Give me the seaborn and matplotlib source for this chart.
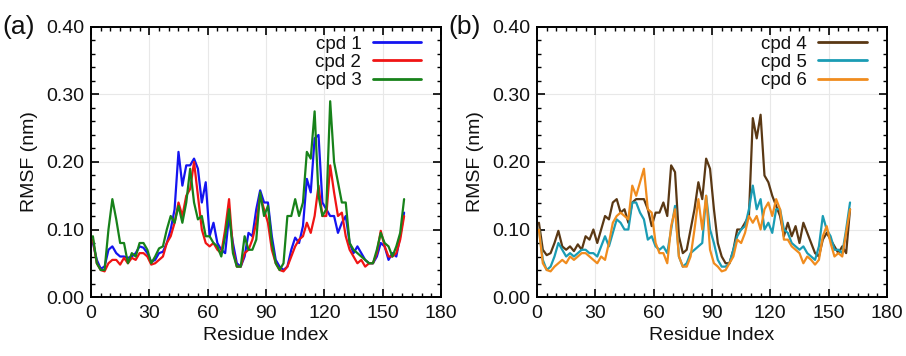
import numpy as np
import pandas as pd
import matplotlib
matplotlib.use("Agg")
import matplotlib.pyplot as plt
import seaborn as sns
from matplotlib.ticker import MultipleLocator

residues = list(range(1, 162, 2))

cpd1 = [0.080, 0.055, 0.042, 0.045, 0.070, 0.075, 0.065, 0.060, 0.060, 0.058,
        0.060, 0.065, 0.075, 0.073, 0.065, 0.052, 0.055, 0.065, 0.067, 0.080,
        0.100, 0.130, 0.215, 0.165, 0.195, 0.195, 0.205, 0.190, 0.140, 0.170,
        0.090, 0.110, 0.080, 0.070, 0.065, 0.120, 0.080, 0.050, 0.045, 0.060,
        0.095, 0.090, 0.130, 0.158, 0.140, 0.140, 0.090, 0.055, 0.045, 0.040,
        0.045, 0.070, 0.088, 0.080, 0.105, 0.175, 0.155, 0.235, 0.240, 0.140,
        0.130, 0.120, 0.120, 0.095, 0.110, 0.120, 0.080, 0.065, 0.075, 0.065,
        0.055, 0.050, 0.050, 0.060, 0.080, 0.075, 0.055, 0.065, 0.060, 0.090,
        0.125]
cpd2 = [0.085, 0.050, 0.040, 0.038, 0.050, 0.055, 0.055, 0.048, 0.058, 0.050,
        0.058, 0.055, 0.065, 0.065, 0.060, 0.048, 0.050, 0.055, 0.060, 0.080,
        0.090, 0.110, 0.140, 0.120, 0.150, 0.160, 0.200, 0.150, 0.100, 0.080,
        0.075, 0.080, 0.070, 0.065, 0.100, 0.145, 0.070, 0.045, 0.045, 0.065,
        0.070, 0.085, 0.110, 0.150, 0.130, 0.110, 0.070, 0.050, 0.040, 0.038,
        0.045, 0.060, 0.075, 0.085, 0.090, 0.110, 0.095, 0.120, 0.165, 0.120,
        0.120, 0.195, 0.155, 0.120, 0.125, 0.090, 0.070, 0.060, 0.050, 0.055,
        0.045, 0.050, 0.050, 0.065, 0.098, 0.075, 0.060, 0.060, 0.065, 0.085,
        0.120]
cpd3 = [0.090, 0.050, 0.040, 0.040, 0.100, 0.145, 0.115, 0.080, 0.080, 0.050,
        0.065, 0.060, 0.080, 0.080, 0.070, 0.050, 0.060, 0.072, 0.075, 0.100,
        0.120, 0.110, 0.135, 0.110, 0.140, 0.190, 0.140, 0.115, 0.120, 0.090,
        0.090, 0.080, 0.075, 0.060, 0.090, 0.130, 0.065, 0.045, 0.045, 0.090,
        0.070, 0.070, 0.085, 0.155, 0.120, 0.135, 0.080, 0.050, 0.040, 0.050,
        0.120, 0.120, 0.145, 0.120, 0.140, 0.215, 0.205, 0.275, 0.150, 0.120,
        0.130, 0.290, 0.200, 0.170, 0.140, 0.140, 0.080, 0.070, 0.065, 0.060,
        0.055, 0.050, 0.050, 0.070, 0.095, 0.080, 0.075, 0.060, 0.075, 0.095,
        0.145]
cpd4 = [0.110, 0.070, 0.062, 0.065, 0.080, 0.098, 0.075, 0.070, 0.075, 0.068,
        0.078, 0.070, 0.090, 0.085, 0.100, 0.080, 0.100, 0.120, 0.115, 0.140,
        0.145, 0.125, 0.130, 0.110, 0.140, 0.145, 0.145, 0.145, 0.130, 0.105,
        0.125, 0.125, 0.140, 0.120, 0.195, 0.185, 0.090, 0.065, 0.070, 0.100,
        0.130, 0.170, 0.145, 0.205, 0.190, 0.130, 0.080, 0.060, 0.050, 0.050,
        0.070, 0.100, 0.100, 0.110, 0.120, 0.265, 0.235, 0.270, 0.180, 0.170,
        0.150, 0.135, 0.120, 0.090, 0.110, 0.090, 0.105, 0.080, 0.110, 0.095,
        0.080, 0.065, 0.060, 0.085, 0.095, 0.085, 0.075, 0.065, 0.075, 0.065,
        0.130]
cpd5 = [0.100, 0.055, 0.040, 0.045, 0.060, 0.080, 0.070, 0.060, 0.065, 0.060,
        0.065, 0.070, 0.070, 0.065, 0.065, 0.060, 0.075, 0.090, 0.075, 0.095,
        0.115, 0.110, 0.100, 0.100, 0.140, 0.140, 0.125, 0.115, 0.085, 0.090,
        0.075, 0.070, 0.075, 0.065, 0.100, 0.135, 0.060, 0.045, 0.050, 0.065,
        0.070, 0.075, 0.080, 0.150, 0.100, 0.080, 0.055, 0.045, 0.045, 0.050,
        0.070, 0.090, 0.100, 0.105, 0.130, 0.165, 0.130, 0.145, 0.100, 0.110,
        0.095, 0.130, 0.130, 0.100, 0.095, 0.080, 0.075, 0.070, 0.075, 0.065,
        0.060, 0.055, 0.075, 0.120, 0.100, 0.090, 0.070, 0.070, 0.065, 0.100,
        0.140]
cpd6 = [0.100, 0.050, 0.040, 0.038, 0.045, 0.050, 0.055, 0.050, 0.060, 0.055,
        0.060, 0.065, 0.065, 0.060, 0.055, 0.050, 0.060, 0.055, 0.080, 0.110,
        0.120, 0.125, 0.120, 0.115, 0.165, 0.150, 0.170, 0.190, 0.130, 0.125,
        0.080, 0.065, 0.065, 0.050, 0.105, 0.130, 0.060, 0.045, 0.045, 0.060,
        0.100, 0.145, 0.100, 0.150, 0.070, 0.050, 0.045, 0.038, 0.040, 0.050,
        0.060, 0.085, 0.080, 0.095, 0.120, 0.110, 0.120, 0.100, 0.130, 0.140,
        0.120, 0.145, 0.130, 0.085, 0.085, 0.075, 0.070, 0.065, 0.050, 0.060,
        0.055, 0.048, 0.055, 0.090, 0.105, 0.080, 0.060, 0.065, 0.060, 0.095,
        0.130]

x_ticks = [0, 30, 60, 90, 120, 150, 180]
y_ticks = [0.00, 0.10, 0.20, 0.30, 0.40]

panels = [
    ("(a)", [("cpd 1", cpd1, "#1414f0"), ("cpd 2", cpd2, "#f01414"), ("cpd 3", cpd3, "#17821a")]),
    ("(b)", [("cpd 4", cpd4, "#5a3814"), ("cpd 5", cpd5, "#1a9cb4"), ("cpd 6", cpd6, "#f08c1e")]),
]

sns.set_style("ticks")
plt.rcParams['font.family'] = ['Liberation Sans', 'DejaVu Sans']
plt.rcParams['text.color'] = '#111111'
plt.rcParams['axes.labelcolor'] = '#111111'
plt.rcParams['xtick.labelcolor'] = '#111111'
plt.rcParams['ytick.labelcolor'] = '#111111'

fig = plt.figure(figsize=(9.06, 3.56), dpi=100)
axes_rects = [[0.1004, 0.1657, 0.3864, 0.7585], [0.5927, 0.1657, 0.3863, 0.7585]]

for rect, (plabel, series) in zip(axes_rects, panels):
    ax = fig.add_axes(rect)
    frames = []
    for name, vals, col in series:
        frames.append(pd.DataFrame({"Residue": residues, "RMSF": vals, "cpd": name}))
    df = pd.concat(frames, ignore_index=True)
    palette = {name: col for name, vals, col in series}
    sns.lineplot(data=df, x="Residue", y="RMSF", hue="cpd", palette=palette,
                 linewidth=1.6, ax=ax, legend=True)
    ax.set_xlim(0, 180)
    ax.set_ylim(0, 0.40)
    ax.set_xticks(x_ticks)
    ax.set_yticks(y_ticks)
    ax.set_yticklabels([f"{v:.2f}" for v in y_ticks])
    ax.xaxis.set_minor_locator(MultipleLocator(5))
    ax.yaxis.set_minor_locator(MultipleLocator(0.02))
    ax.tick_params(which="both", direction="in", top=True, right=True, colors="black",
                   labelcolor="#111111", labelsize=14)
    ax.tick_params(which="major", length=6, width=1.2)
    ax.tick_params(which="minor", length=3, width=1.0)
    ax.tick_params(axis="x", pad=6)
    ax.tick_params(axis="y", pad=5)
    ax.grid(True, which="major", color="#e8e8e8", linewidth=0.8)
    ax.set_axisbelow(True)
    for sp in ax.spines.values():
        sp.set_color("black")
        sp.set_linewidth(1.4)
    ax.set_xlabel("Residue Index", fontsize=14, labelpad=3)
    ax.set_ylabel("RMSF (nm)", fontsize=14, labelpad=6)
    leg = ax.legend(loc="upper right", bbox_to_anchor=(0.965, 0.995), frameon=False,
                    markerfirst=False, fontsize=13.5, handlelength=2.6,
                    handletextpad=0.6, labelspacing=0.05, borderaxespad=0.0)
    for h in leg.get_lines():
        h.set_linewidth(2.0)
    x0 = rect[0]
    fig.text(x0 - 0.098, 0.925, plabel, fontsize=19, ha="left", va="center")

fig.savefig("out.png", dpi=100)
